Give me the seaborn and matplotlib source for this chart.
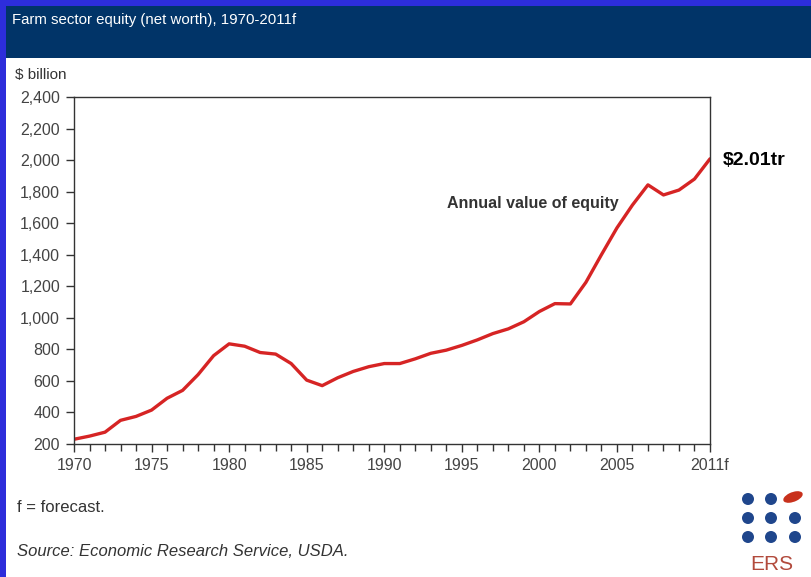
import numpy as np
import pandas as pd
import matplotlib.pyplot as plt
import seaborn as sns
from matplotlib.patches import Rectangle, Ellipse

#%% data ($ billion)
years = list(range(1970, 2012))
equity = [230, 250, 275, 350, 375, 415, 490, 540, 640, 760,
          835, 820, 780, 770, 710, 605, 570, 620, 660, 690,
          710, 710, 740, 775, 795, 825, 860, 900, 930, 975,
          1040, 1090, 1088, 1225, 1400, 1570, 1715, 1843, 1779, 1810,
          1880, 2008]
xtick_years = [1970, 1975, 1980, 1985, 1990, 1995, 2000, 2005, 2011]
xtick_labels = ["1970", "1975", "1980", "1985", "1990", "1995", "2000", "2005", "2011f"]
yticks = list(range(200, 2401, 200))

df = pd.DataFrame({"year": years, "equity": equity})

sns.set_style("ticks")
plt.rcParams['font.family'] = ['Liberation Sans', 'DejaVu Sans']

fig = plt.figure(figsize=(8.11, 5.77), dpi=100)
fig.patch.set_facecolor("white")

#%% frame: blue border + navy header
fig.patches.append(Rectangle((0, 0), 1, 1, transform=fig.transFigure,
                             facecolor="#2d2ddb", edgecolor="none", zorder=-10))
fig.patches.append(Rectangle((6/811, 0), 1, 1 - 6/577, transform=fig.transFigure,
                             facecolor="white", edgecolor="none", zorder=-9))
fig.patches.append(Rectangle((6/811, 1 - 58/577), 1, 52/577, transform=fig.transFigure,
                             facecolor="#013468", edgecolor="none", zorder=-8))
fig.text(12/811, 1 - 20/577, "Farm sector equity (net worth), 1970-2011f",
         color="white", fontsize=10.8, va="center", ha="left")

#%% chart
ax = fig.add_axes([74/811, 1 - 444/577, 636/811, 347/577])
ax.set_zorder(5)
sns.lineplot(data=df, x="year", y="equity", ax=ax, color="#d62424", linewidth=2.4)
ax.set_xlim(1970, 2011)
ax.set_ylim(200, 2400)
ax.set_yticks(yticks)
ax.set_yticklabels([f"{v:,}" for v in yticks])
ax.set_xticks(xtick_years)
ax.set_xticklabels(xtick_labels)
ax.set_xticks(years, minor=True)
ax.tick_params(axis="both", which="major", labelsize=11.5, labelcolor="#444444",
               length=6, width=1, color="#333333", pad=4)
ax.tick_params(axis="x", which="minor", length=5, width=1, color="#333333")
ax.set_xlabel("")
ax.set_ylabel("")
for s in ax.spines.values():
    s.set_color("#333333")
    s.set_linewidth(1)

ax.text(1994.05, 1722, "Annual value of equity", fontsize=11.5, fontweight="bold",
        color="#333333", ha="left", va="center")
ax.text(2011.8, 2000, "$2.01tr", fontsize=14, fontweight="bold", color="black",
        ha="left", va="center", clip_on=False)

fig.text(15/811, 1 - 75/577, "$ billion", fontsize=11, color="#333333", va="center")
fig.text(17/811, 1 - 507/577, "f = forecast.", fontsize=12, color="#333333", va="center")
fig.text(17/811, 1 - 551/577, "Source: Economic Research Service, USDA.", fontsize=12,
         color="#333333", style="italic", va="center")

#%% ERS logo
for row_y in [499, 518, 537]:
    for col_x in [748, 771, 795]:
        if row_y == 499 and col_x == 795:
            fig.patches.append(Ellipse((793/811, 1 - 497/577), 22/811, 9/577, angle=35,
                                       transform=fig.transFigure, facecolor="#c8311c",
                                       edgecolor="none"))
        else:
            fig.patches.append(Ellipse((col_x/811, 1 - row_y/577), 12/811, 12/577,
                                       transform=fig.transFigure, facecolor="#1f468c",
                                       edgecolor="none"))
fig.text(772/811, 1 - 570/577, "ERS", fontsize=15, color="#b24a3c", ha="center",
         va="baseline")

fig.savefig("out.png", dpi=100)
